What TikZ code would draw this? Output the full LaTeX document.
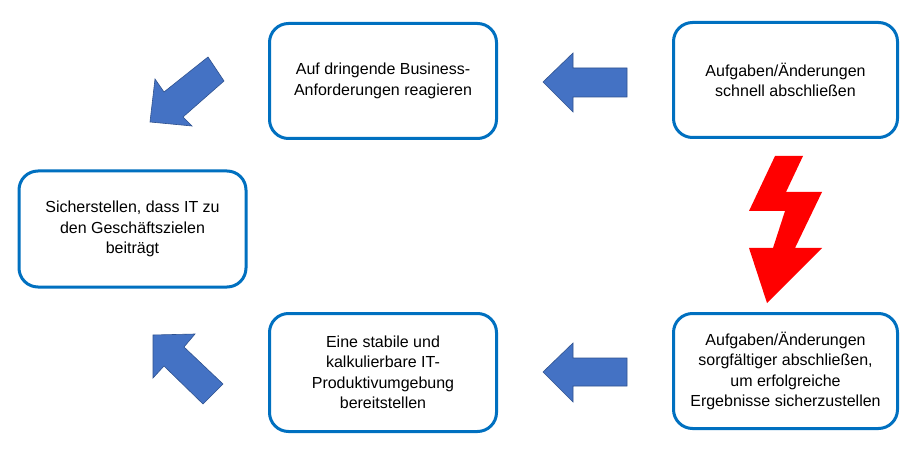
\documentclass[tikz,border=0pt]{standalone}
\usepackage{fontspec}
\setmainfont{Liberation Sans}
\definecolor{boxblue}{HTML}{0070C0}
\definecolor{arrowfill}{HTML}{4472C4}
\definecolor{arrowline}{HTML}{2F528F}
\definecolor{boltred}{HTML}{FF0000}
\begin{document}
\begin{tikzpicture}[x=1pt,y=-1pt,
  infobox/.style={draw=boxblue, line width=3pt, rounded corners=19pt, fill=white,
    inner sep=0pt, align=center, font=\fontsize{16}{20.5}\selectfont},
  blockarrow/.style={fill=arrowfill, draw=arrowline, line width=0.6pt, line join=miter},
  bolt/.style={fill=boltred, draw=none}]
\useasboundingbox (0,0) rectangle (923,454);
\fill[white] (0,0) rectangle (923,454);

\node[infobox, minimum width=227pt, minimum height=115pt] (A) at (383,81)
  {Auf dringende Business-\\Anforderungen reagieren};
\node[infobox, minimum width=224pt, minimum height=115pt] (B) at (785.5,80)
  {Aufgaben/Änderungen\\schnell abschließen};
\node[infobox, minimum width=227pt, minimum height=116pt] (C) at (132.5,229)
  {Sicherstellen, dass IT zu\\den Geschäftszielen\\beiträgt};
\node[infobox, minimum width=227pt, minimum height=118pt] (D) at (383,372.5)
  {Eine stabile und\\kalkulierbare IT-\\Produktivumgebung\\bereitstellen};
\node[infobox, minimum width=224pt, minimum height=115pt] (E) at (785.5,371)
  {Aufgaben/Änderungen\\sorgfältiger abschließen,\\um erfolgreiche\\Ergebnisse sicherzustellen};

% block arrows
\draw[blockarrow] (543,82) -- (573,53) -- (573,68) -- (627,68) -- (627,97) -- (573,97) -- (573,112) -- cycle;
\draw[blockarrow] (543,372) -- (573,343) -- (573,358) -- (627,358) -- (627,386) -- (573,386) -- (573,402) -- cycle;
\draw[blockarrow] (150,122) -- (155,79) -- (164,92) -- (208,57) -- (224,81) -- (183,117) -- (192,126) -- cycle;
\draw[blockarrow] (153,335) -- (195,334) -- (184,347) -- (223,384) -- (203,404) -- (164,366) -- (153,378) -- cycle;

% lightning bolt
\fill[bolt] (775,156) -- (803,156) -- (786,192) -- (822,192) -- (795,248) -- (822,248) -- (767,303)
  -- (749,248) -- (773,248) -- (785,211) -- (749,211) -- cycle;
\end{tikzpicture}
\end{document}
